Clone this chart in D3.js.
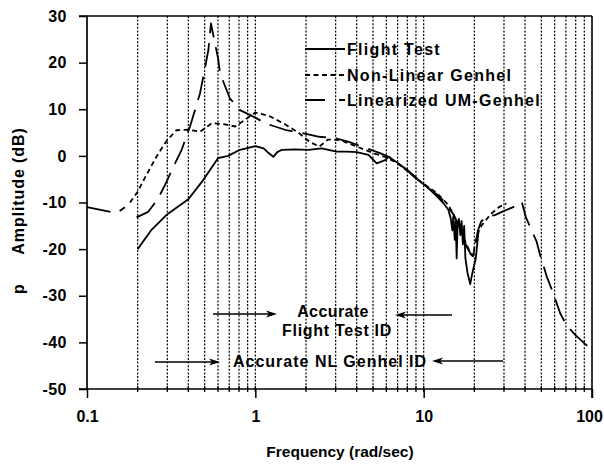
<!DOCTYPE html>
<html><head><meta charset="utf-8">
<script src="https://cdn.jsdelivr.net/npm/d3@7"></script>
<style>
body{margin:0;background:#fff}
svg{display:block}
text{font-family:"Liberation Sans",Arial,Helvetica,sans-serif;font-weight:bold;fill:#000}
</style>
</head><body>
<svg id="c" width="604" height="468"></svg>
<script>
// ---- data ----
const xTickValues = [0.1, 1, 10, 100];
const xTickLabels = ["0.1", "1", "10", "100"];
const yTickValues = [30, 20, 10, 0, -10, -20, -30, -40, -50];
const yTickLabels = ["30", "20", "10", "0", "-10", "-20", "-30", "-40", "-50"];
const gridFreqs = [0.2,0.3,0.4,0.5,0.6,0.7,0.8,0.9,1,2,3,4,5,6,7,8,9,10,20,30,40,50,60,70,80,90];
const seriesNames = ["Flight Test", "Non-Linear Genhel", "Linearized UM-Genhel"];

const freqFT = [0.2,0.24,0.3,0.4,0.49,0.6,0.69,0.81,1.0,1.12,1.2,1.28,1.35,1.44,1.7,2.07,2.48,3.04,3.5,4.0,4.7,5.26,5.9,6.2,7.0,7.9,9,10.4,12,13,14,14.5,14.8,15.0,15.3,15.5,15.7,15.9,16.2,16.5,16.8,17.1,17.4,17.7,18.2,18.9,19.5,20.4,21.2];
const ampFT  = [-20,-16,-12.5,-9.3,-5.2,-0.5,0,1.3,2.1,1.6,0.6,-0.2,0.8,1.3,1.4,1.3,1.6,0.9,0.9,0.8,0.2,-1.6,-0.9,-0.2,-1.5,-3.0,-4.8,-6.6,-8.7,-10,-11.5,-13.5,-16,-13,-18,-14,-22,-15,-13.5,-17,-14,-19,-15,-22,-25,-27.5,-25,-22,-16];

const freqNL = [0.18,0.2,0.22,0.24,0.265,0.3,0.34,0.4,0.47,0.55,0.65,0.76,0.85,1.0,1.2,1.5,1.8,2.1,2.4,2.7,3.2,4.0,5.1,6,7,8,9,10.4,12,13,14,15,16,17,18,19,19.6,20.2,21,22,25,28,31];
const ampNL  = [-10,-7.7,-4.8,-2.3,0.5,3.4,5.5,5.6,5.2,7.0,6.8,6.3,7.5,9.3,8.6,6.8,5.0,3.0,2.0,3.5,3.4,2.0,0.5,-0.3,-1.6,-3.2,-4.8,-6.4,-8,-9.3,-10.5,-12.5,-15,-17,-19,-21,-21.5,-19,-16.5,-15,-12.5,-11,-10.2];

const freqLin = [0.1,0.15,0.168,0.18,0.197,0.231,0.265,0.291,0.326,0.365,0.409,0.438,0.469,0.491,0.526,0.545,0.576,0.603,0.617,0.707,0.811,1.0,1.14,1.5,2.0,2.4,3.0,3.6,4.6,5.5,6.2,7,8,9,10.4,12,13,14,15,16,17,18,19,19.6,20.3,21,22,24,26.5,30,34,38.2,40.5,46.9,49.2,53.9,57.9,64.8,70.6,80,94.8,100];
const ampLin  = [-11,-12.3,-11.0,null,-13.2,-12.0,-9.1,-6.2,-2.3,1.3,6.3,9.8,13.4,17.0,22.7,28.4,24.1,20.6,17.7,12.3,9.8,8.2,7.0,5.6,4.7,4.1,3.8,3.0,1.6,0.6,-0.2,-1.5,-3.0,-4.6,-6.6,-8.3,-9.5,-11,-12.5,-14.5,-17,-19.5,-21,-21.5,-19,-16,-14,-13,-12.7,-11.8,-11,-9.8,-13.2,-18.4,-21.3,-25.9,-28.8,-33.8,-36.3,-38.5,-40.9,-41.5];

// ---- layout ----
const L = 87, R = 592, T = 16, B = 389;
const svg = d3.select("#c");
const x = d3.scaleLog().domain([0.1, 100]).range([L, R]);
const y = d3.scaleLinear().domain([-50, 30]).range([B, T]);

// gridlines
svg.append("g").selectAll("line").data(gridFreqs).join("line")
  .attr("x1", d => x(d)).attr("x2", d => x(d))
  .attr("y1", T).attr("y2", B)
  .attr("stroke", "#000").attr("stroke-width", 1.2)
  .attr("stroke-dasharray", "2,1.6");

// minor ticks on bottom axis
svg.append("g").selectAll("line").data(gridFreqs).join("line")
  .attr("x1", d => x(d)).attr("x2", d => x(d))
  .attr("y1", B - 3).attr("y2", B + 3)
  .attr("stroke", "#000").attr("stroke-width", 1.3);

// frame
svg.append("line").attr("x1", L - 8).attr("x2", R).attr("y1", T).attr("y2", T).attr("stroke", "#000").attr("stroke-width", 1.6);
svg.append("line").attr("x1", R).attr("x2", R).attr("y1", T).attr("y2", B + 9).attr("stroke", "#000").attr("stroke-width", 1.6);

// axes
const xAxis = d3.axisBottom(x).tickValues(xTickValues).tickFormat((d, i) => xTickLabels[i]).tickSize(9).tickPadding(13);
const gx = svg.append("g").attr("transform", `translate(0,${B})`).call(xAxis);
gx.select(".domain").attr("stroke-width", 1.7).attr("d", `M${L - 8},0H${R}`);
gx.selectAll(".tick line").attr("stroke-width", 1.5);
gx.selectAll("text").style("font-size", "16px").style("font-family", "'Liberation Sans',Arial,sans-serif").style("font-weight", "bold")
  .attr("dx", (d, i) => i === xTickValues.length - 1 ? -3 : 0);

const yAxis = d3.axisLeft(y).tickValues(yTickValues).tickFormat((d, i) => yTickLabels[i]).tickSize(8).tickPadding(12);
const gy = svg.append("g").attr("transform", `translate(${L},0)`).call(yAxis);
gy.select(".domain").attr("stroke-width", 1.7).attr("d", `M0,${T}V${B}`);
gy.selectAll(".tick line").attr("stroke-width", 1.5);
gy.selectAll("text").style("font-size", "16px").style("font-family", "'Liberation Sans',Arial,sans-serif").style("font-weight", "bold").style("letter-spacing", "0.5px");

// axis titles
svg.append("text").attr("x", 340).attr("y", 457).attr("text-anchor", "middle")
  .style("font-size", "15.5px").text("Frequency (rad/sec)");
svg.append("text").attr("transform", "translate(24,191) rotate(-90)").attr("text-anchor", "middle")
  .style("font-size", "16px").style("letter-spacing", "0.9px").text("Amplitude (dB)");
svg.append("text").attr("transform", "translate(24,289) rotate(-90)").attr("text-anchor", "middle")
  .style("font-size", "16px").text("p");

// curves
const line = d3.line().defined(d => d[1] !== null).x(d => x(d[0])).y(d => y(d[1]));
const seriesData = [
  d3.zip(freqFT, ampFT),
  d3.zip(freqNL, ampNL),
  d3.zip(freqLin, ampLin)
];
const dashes = [null, "5,3.5", "24,10"];
const g = svg.append("g");
seriesData.forEach((data, i) => {
  g.append("path").datum(data).attr("d", line)
    .attr("fill", "none").attr("stroke", "#000").attr("stroke-width", 1.8)
    .attr("stroke-linejoin", "round")
    .attr("stroke-dasharray", dashes[i]);
});

// legend
const legY = [49, 75, 100];
seriesNames.forEach((name, i) => {
  svg.append("line").attr("x1", 305).attr("x2", 345).attr("y1", legY[i]).attr("y2", legY[i])
    .attr("stroke", "#000").attr("stroke-width", 1.8).attr("stroke-dasharray", i === 2 ? "20,14" : dashes[i]);
  svg.append("text").attr("x", 347).attr("y", legY[i] + 6).style("font-size", "16px")
    .style("letter-spacing", "1.3px").text(name);
});

// annotations
function arrow(x1, x2, yy) {
  const dir = Math.sign(x2 - x1);
  svg.append("line").attr("x1", x1).attr("x2", x2 - dir * 8).attr("y1", yy).attr("y2", yy)
    .attr("stroke", "#000").attr("stroke-width", 1.5);
  svg.append("path").attr("d", `M${x2},${yy}L${x2 - dir * 11},${yy - 3.5}L${x2 - dir * 8},${yy}L${x2 - dir * 11},${yy + 3.5}Z`)
    .attr("fill", "#000");
}
svg.append("text").attr("x", 333).attr("y", 317).attr("text-anchor", "middle").style("font-size", "16px").style("letter-spacing", "0.4px").text("Accurate");
svg.append("text").attr("x", 337).attr("y", 336).attr("text-anchor", "middle").style("font-size", "16px").style("letter-spacing", "0.7px").text("Flight Test ID");
svg.append("text").attr("x", 330).attr("y", 367).attr("text-anchor", "middle").style("font-size", "16px").style("letter-spacing", "1px").text("Accurate NL Genhel ID");
arrow(213, 277, 314);
arrow(452, 395, 315);
arrow(155, 220, 362);
arrow(503, 432, 361);
</script>
</body></html>
